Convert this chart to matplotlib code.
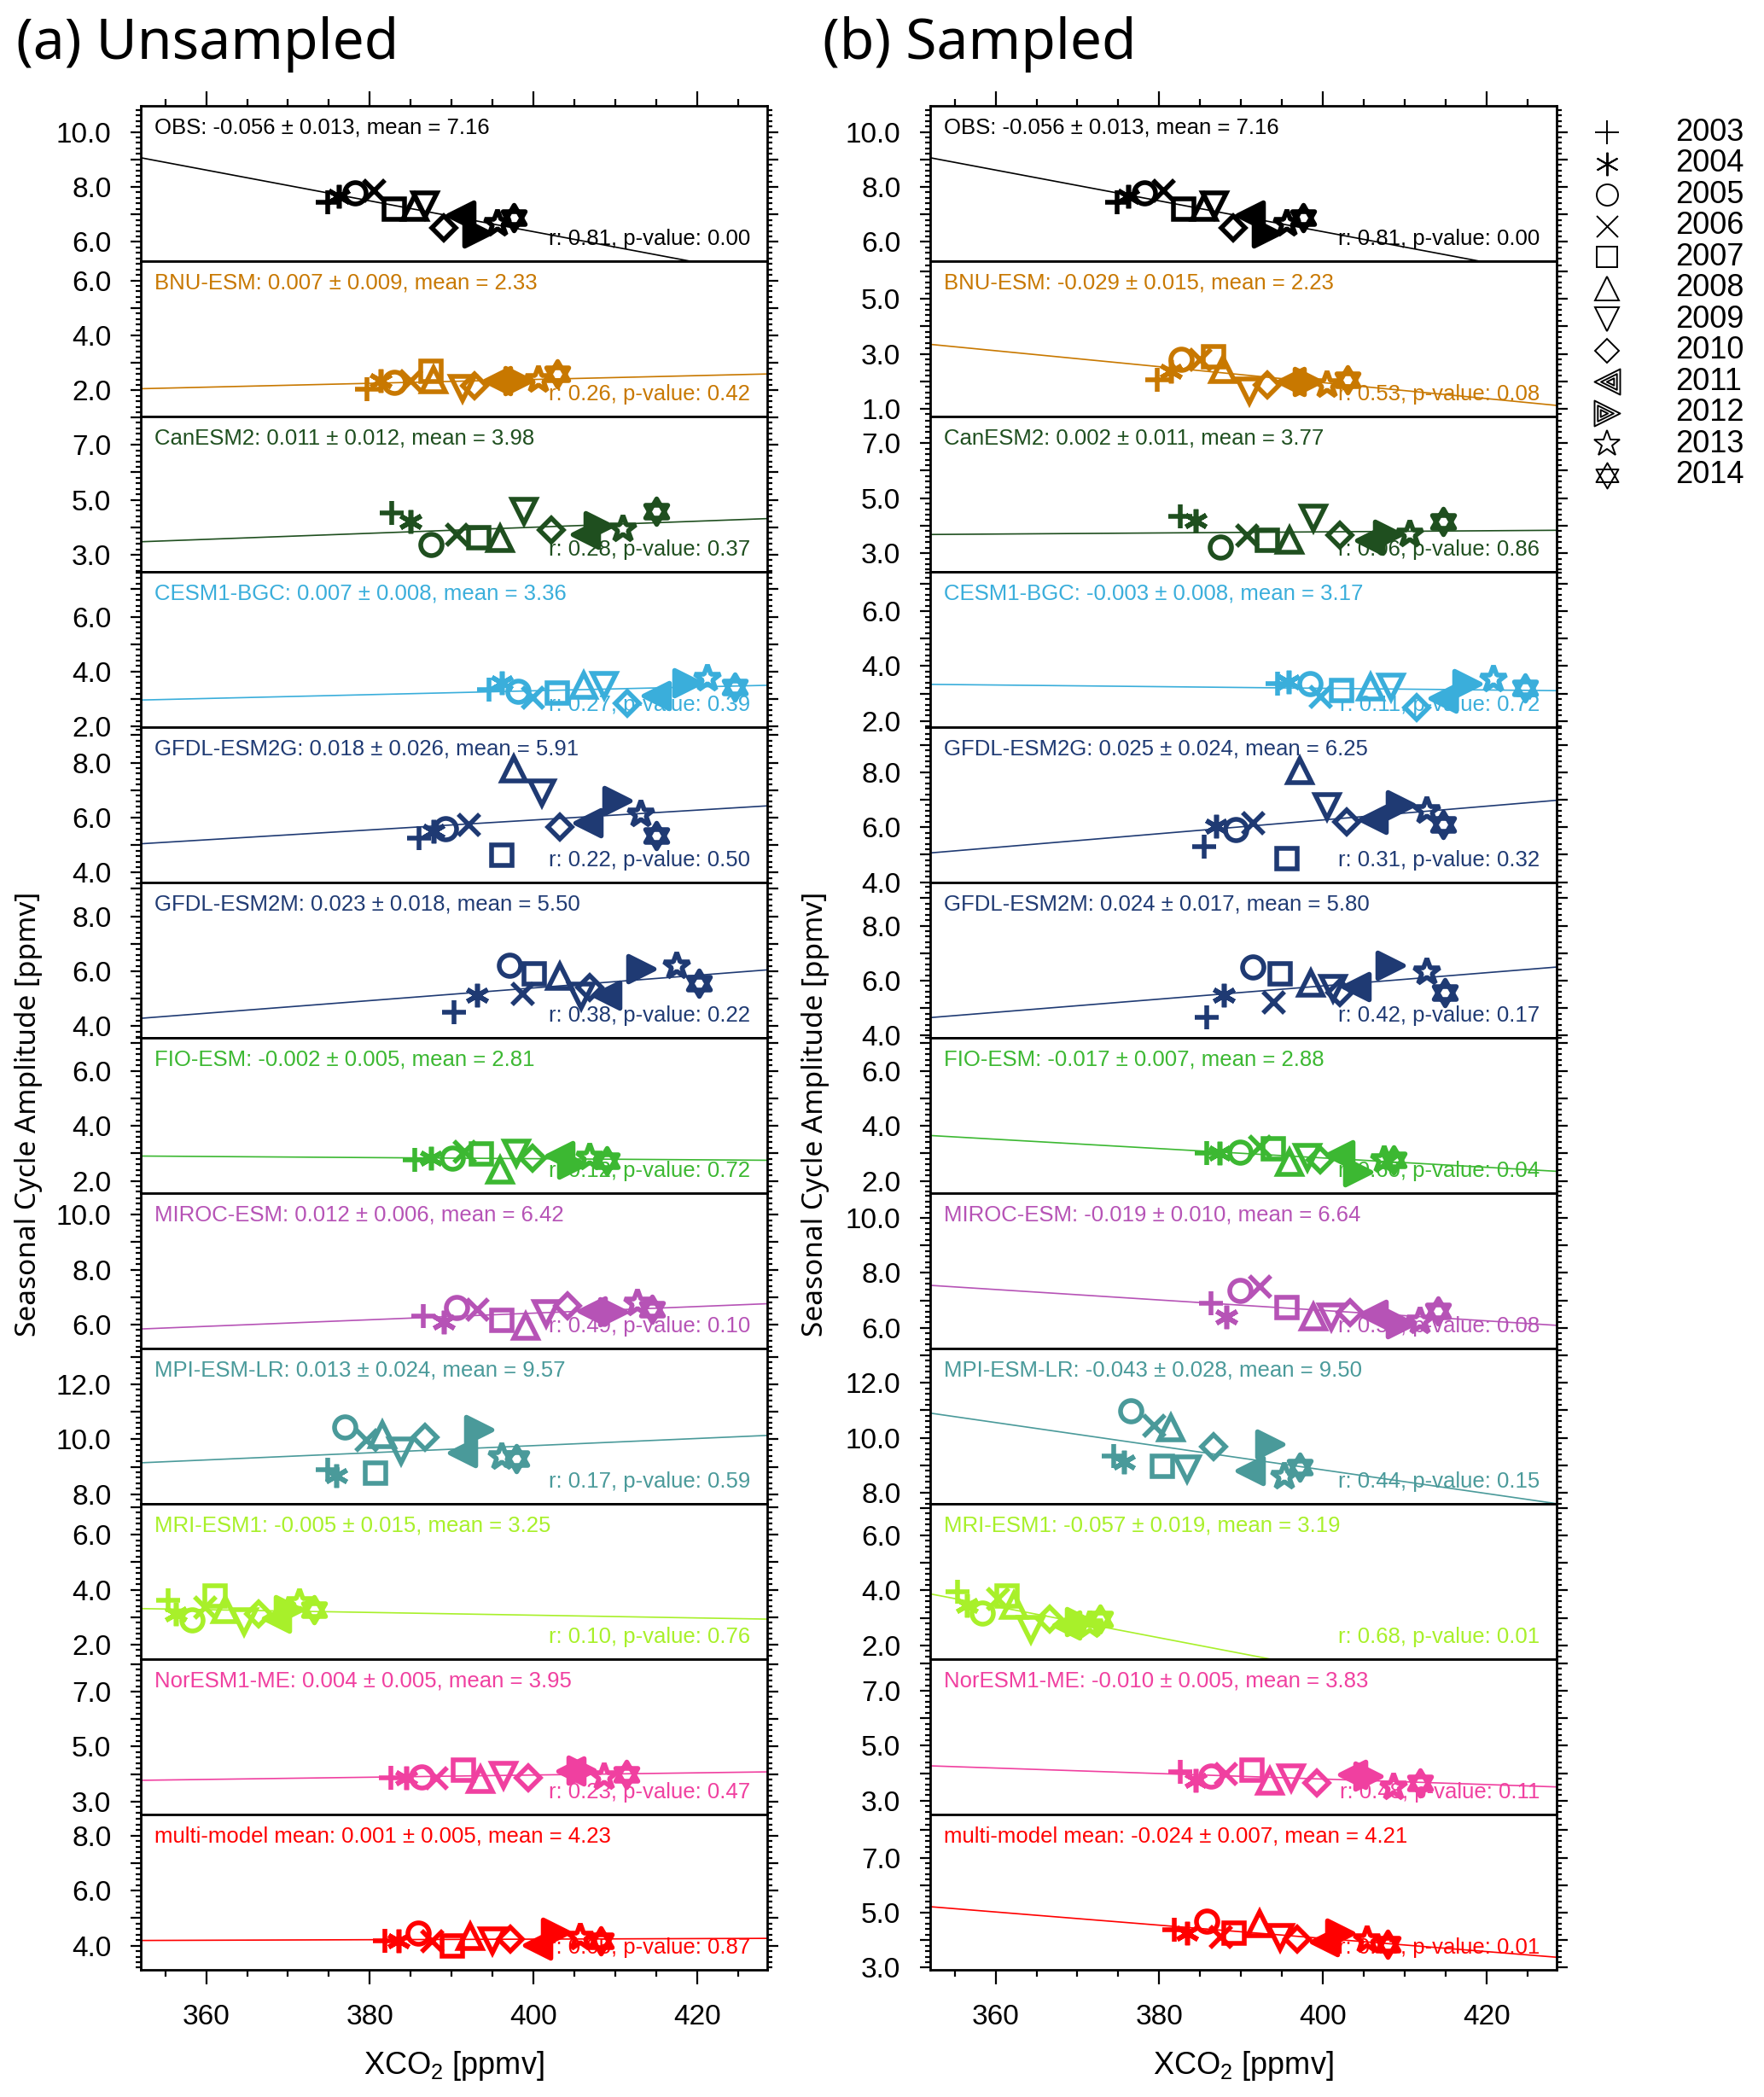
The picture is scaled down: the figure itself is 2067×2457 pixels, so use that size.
import numpy as np
import matplotlib
matplotlib.use("Agg")
import matplotlib.pyplot as plt
from matplotlib.path import Path
from matplotlib.ticker import MultipleLocator, FuncFormatter

plt.rcParams["font.family"] = ["Liberation Sans", "DejaVu Sans"]
plt.rcParams["mathtext.fontset"] = "custom"
plt.rcParams["mathtext.rm"] = "Liberation Sans"
plt.rcParams["mathtext.default"] = "regular"

years = [2003, 2004, 2005, 2006, 2007, 2008, 2009, 2010, 2011, 2012, 2013, 2014]
models = ["OBS", "BNU-ESM", "CanESM2", "CESM1-BGC", "GFDL-ESM2G", "GFDL-ESM2M",
          "FIO-ESM", "MIROC-ESM", "MPI-ESM-LR", "MRI-ESM1", "NorESM1-ME",
          "multi-model mean"]
colors = ["#000000", "#c87800", "#1f4f1f", "#3aaedb", "#1f3a73", "#1f3a73",
          "#3cb832", "#b653b6", "#4a9a9a", "#a8f02a", "#f040a0", "#ff0000"]

# (a) unsampled: XCO2 [ppmv] and seasonal cycle amplitude [ppmv] per year
xco2_unsampled = {
    "OBS": [374.9, 376.2, 378.2, 380.5, 383.0, 385.5, 386.8, 389.0, 391.1, 393.1, 395.6, 397.6],
    "BNU-ESM": [379.7, 381.3, 383.0, 385.0, 387.5, 387.8, 391.3, 392.8, 395.6, 398.1, 400.6, 402.9],
    "CanESM2": [382.7, 385.0, 387.5, 390.6, 393.3, 395.9, 398.9, 402.2, 406.4, 407.9, 411.0, 415.0],
    "CESM1-BGC": [394.6, 396.1, 398.1, 399.9, 402.9, 406.2, 408.7, 411.5, 415.0, 418.8, 421.3, 424.6],
    "GFDL-ESM2G": [386.0, 387.8, 389.3, 392.1, 396.1, 397.6, 401.1, 403.2, 406.7, 410.2, 413.2, 415.0],
    "GFDL-ESM2M": [390.3, 393.1, 397.1, 398.6, 400.1, 403.2, 405.9, 406.9, 409.0, 413.2, 417.5, 420.3],
    "FIO-ESM": [385.5, 387.5, 390.1, 391.6, 393.6, 395.9, 397.9, 399.9, 403.2, 404.7, 406.9, 409.0],
    "MIROC-ESM": [386.5, 389.0, 390.6, 393.1, 396.1, 399.1, 401.6, 404.2, 407.2, 409.7, 412.7, 414.5],
    "MPI-ESM-LR": [374.9, 375.9, 376.9, 379.5, 380.7, 381.5, 383.8, 386.8, 391.3, 393.3, 396.1, 397.9],
    "MRI-ESM1": [355.3, 356.3, 358.3, 359.8, 361.1, 362.3, 364.6, 366.4, 368.6, 370.1, 371.4, 373.2],
    "NorESM1-ME": [382.6, 384.5, 386.3, 388.1, 391.5, 393.5, 396.4, 399.4, 404.6, 405.9, 408.7, 411.4],
    "multi-model mean": [381.8, 383.5, 385.9, 387.6, 390.1, 392.3, 395.0, 397.2, 400.5, 402.7, 405.7, 408.2],
}
amp_unsampled = {
    "OBS": [7.45, 7.66, 7.77, 7.87, 7.19, 7.25, 7.35, 6.52, 6.99, 6.31, 6.68, 6.88],
    "BNU-ESM": [2.03, 2.34, 2.29, 2.34, 2.70, 2.38, 2.07, 2.18, 2.34, 2.34, 2.39, 2.60],
    "CanESM2": [4.51, 4.20, 3.37, 3.74, 3.63, 3.58, 4.57, 3.89, 3.74, 4.05, 3.94, 4.57],
    "CESM1-BGC": [3.34, 3.60, 3.29, 3.08, 3.23, 3.50, 3.50, 2.86, 3.13, 3.60, 3.76, 3.44],
    "GFDL-ESM2G": [5.24, 5.50, 5.60, 5.75, 4.62, 7.77, 6.89, 5.65, 5.81, 6.63, 6.12, 5.34],
    "GFDL-ESM2M": [4.52, 5.14, 6.23, 5.19, 5.92, 5.82, 5.09, 5.40, 5.14, 6.08, 6.18, 5.56],
    "FIO-ESM": [2.76, 2.81, 2.81, 3.08, 2.97, 2.39, 3.02, 2.81, 2.92, 2.60, 2.86, 2.73],
    "MIROC-ESM": [6.30, 6.10, 6.62, 6.56, 6.15, 5.94, 6.41, 6.67, 6.51, 6.46, 6.77, 6.56],
    "MPI-ESM-LR": [8.88, 8.68, 10.44, 9.97, 8.78, 10.18, 9.56, 10.08, 9.51, 10.34, 9.35, 9.30],
    "MRI-ESM1": [3.62, 3.10, 2.90, 3.36, 3.78, 3.26, 2.84, 3.10, 2.95, 3.26, 3.52, 3.26],
    "NorESM1-ME": [3.85, 3.85, 3.90, 3.85, 4.15, 3.80, 3.95, 3.85, 4.10, 4.15, 3.90, 4.00],
    "multi-model mean": [4.18, 4.18, 4.44, 4.18, 3.98, 4.34, 4.18, 4.24, 4.03, 4.49, 4.29, 4.18],
}
slope_unsampled = [-0.056, 0.007, 0.011, 0.007, 0.018, 0.023, -0.002, 0.012, 0.013, -0.005, 0.004, 0.001]
err_unsampled = [0.013, 0.009, 0.012, 0.008, 0.026, 0.018, 0.005, 0.006, 0.024, 0.015, 0.005, 0.005]
mean_unsampled = [7.16, 2.33, 3.98, 3.36, 5.91, 5.50, 2.81, 6.42, 9.57, 3.25, 3.95, 4.23]
r_unsampled = [0.81, 0.26, 0.28, 0.27, 0.22, 0.38, 0.12, 0.49, 0.17, 0.10, 0.23, 0.05]
p_unsampled = [0.00, 0.42, 0.37, 0.39, 0.50, 0.22, 0.72, 0.10, 0.59, 0.76, 0.47, 0.87]
ymin_unsampled = [5.3, 1.05, 2.38, 1.98, 3.64, 3.58, 1.55, 5.13, 7.65, 1.47, 2.53, 3.12]

# (b) sampled
xco2_sampled = {
    "OBS": [374.9, 376.2, 378.2, 380.5, 383.0, 385.5, 386.8, 389.0, 391.1, 393.1, 395.6, 397.6],
    "BNU-ESM": [379.8, 381.4, 382.7, 385.0, 386.6, 387.8, 391.0, 393.2, 396.1, 398.1, 400.5, 403.0],
    "CanESM2": [382.6, 384.5, 387.5, 390.7, 393.2, 395.9, 398.9, 402.1, 405.7, 407.9, 410.6, 414.7],
    "CESM1-BGC": [394.5, 395.8, 398.4, 399.7, 402.3, 405.9, 408.4, 411.5, 414.7, 417.6, 420.9, 424.7],
    "GFDL-ESM2G": [385.5, 387.0, 389.4, 391.5, 395.6, 397.2, 400.5, 402.9, 406.2, 409.5, 412.7, 414.7],
    "GFDL-ESM2M": [385.8, 387.9, 391.5, 394.0, 394.8, 398.5, 401.3, 402.1, 404.1, 408.3, 412.7, 414.9],
    "FIO-ESM": [385.8, 387.4, 389.9, 392.3, 394.0, 395.9, 398.1, 399.7, 402.1, 404.3, 407.5, 408.7],
    "MIROC-ESM": [386.3, 388.2, 389.9, 392.3, 395.6, 398.9, 401.0, 403.3, 406.2, 409.5, 411.9, 414.1],
    "MPI-ESM-LR": [374.4, 375.7, 376.5, 379.3, 380.4, 381.4, 383.4, 386.6, 391.1, 393.5, 395.3, 397.2],
    "MRI-ESM1": [355.3, 356.5, 358.4, 360.2, 361.4, 362.2, 364.3, 366.6, 368.7, 370.3, 371.5, 372.8],
    "NorESM1-ME": [382.6, 384.5, 386.3, 388.1, 391.3, 393.5, 396.1, 399.3, 403.7, 405.5, 408.7, 411.9],
    "multi-model mean": [381.8, 383.4, 385.8, 387.5, 389.1, 392.3, 394.8, 396.9, 400.2, 402.1, 405.4, 407.9],
}
amp_sampled = {
    "OBS": [7.45, 7.66, 7.77, 7.87, 7.19, 7.25, 7.35, 6.52, 6.99, 6.31, 6.68, 6.88],
    "BNU-ESM": [2.07, 2.37, 2.81, 2.81, 2.90, 2.42, 1.64, 1.88, 1.98, 1.98, 1.88, 2.07],
    "CanESM2": [4.34, 4.19, 3.21, 3.65, 3.46, 3.46, 4.29, 3.65, 3.46, 3.70, 3.70, 4.14],
    "CESM1-BGC": [3.36, 3.41, 3.36, 2.89, 3.10, 3.25, 3.25, 2.48, 2.84, 3.36, 3.51, 3.20],
    "GFDL-ESM2G": [5.30, 6.05, 5.90, 6.15, 4.85, 8.05, 6.75, 6.20, 6.30, 6.80, 6.60, 6.10],
    "GFDL-ESM2M": [4.68, 5.47, 6.51, 5.22, 6.26, 5.92, 5.72, 5.57, 5.77, 6.56, 6.31, 5.57],
    "FIO-ESM": [3.00, 3.00, 3.05, 3.25, 3.15, 2.66, 2.86, 2.76, 2.95, 2.32, 2.76, 2.76],
    "MIROC-ESM": [6.88, 6.39, 7.36, 7.51, 6.73, 6.39, 6.39, 6.54, 6.49, 6.15, 6.24, 6.63],
    "MPI-ESM-LR": [9.35, 9.11, 10.99, 10.46, 8.96, 10.36, 8.87, 9.69, 8.82, 9.78, 8.58, 8.92],
    "MRI-ESM1": [3.95, 3.46, 3.17, 3.70, 3.80, 3.46, 2.58, 2.97, 2.73, 2.88, 2.73, 2.97],
    "NorESM1-ME": [4.05, 3.75, 3.90, 4.00, 4.10, 3.70, 3.85, 3.65, 3.95, 3.90, 3.50, 3.65],
    "multi-model mean": [4.39, 4.24, 4.69, 4.14, 4.24, 4.59, 4.09, 4.05, 3.95, 4.24, 4.00, 3.85],
}
slope_sampled = [-0.056, -0.029, 0.002, -0.003, 0.025, 0.024, -0.017, -0.019, -0.043, -0.057, -0.010, -0.024]
err_sampled = [0.013, 0.015, 0.011, 0.008, 0.024, 0.017, 0.007, 0.010, 0.028, 0.019, 0.005, 0.007]
mean_sampled = [7.16, 2.23, 3.77, 3.17, 6.25, 5.80, 2.88, 6.64, 9.50, 3.19, 3.83, 4.21]
r_sampled = [0.81, 0.53, 0.06, 0.11, 0.31, 0.42, 0.60, 0.53, 0.44, 0.68, 0.48, 0.73]
p_sampled = [0.00, 0.08, 0.86, 0.72, 0.32, 0.17, 0.04, 0.08, 0.15, 0.01, 0.11, 0.01]
ymin_sampled = [5.3, 0.72, 2.32, 1.78, 3.99, 3.92, 1.55, 5.25, 7.6, 1.5, 2.5, 2.92]


def tri_path(direction):
    # three nested triangles, tip pointing left (-1) or right (+1)
    verts, codes = [], []
    for s in (1.0, 0.62, 0.28):
        pts = [(-1, 0), (1, 1), (1, -1)]
        pts = [((px - 1 / 3) * s + 1 / 3, py * s) for px, py in pts]
        pts = [(-direction * px, py) for px, py in pts]
        verts += pts + [pts[0]]
        codes += [Path.MOVETO, Path.LINETO, Path.LINETO, Path.CLOSEPOLY]
    return Path(verts, codes)


def hexagram_path():
    c, s = 0.866, 0.5
    verts = [(0, 1), (-c, -s), (c, -s), (0, 1), (0, -1), (-c, s), (c, s), (0, -1)]
    codes = [Path.MOVETO, Path.LINETO, Path.LINETO, Path.CLOSEPOLY] * 2
    return Path(verts, codes)


markers = ["+", (6, 2, 0), "o", "x", "s", "^", "v", "D",
           tri_path(-1), tri_path(1), "*", hexagram_path()]
marker_scale = [1.15, 1.1, 1.0, 1.0, 0.95, 1.1, 1.1, 0.8, 1.2, 1.2, 1.3, 1.2]
marker_filled = [False] * 8 + [True, True, False, False]

W, H = 2067, 2457
fig = plt.figure(figsize=(W / 100, H / 100), dpi=100)

col_left = [165, 1090]
col_width = 734
panel_top = 124
panel_h = 182
xlim = (352, 428.6)

columns = [
    (xco2_unsampled, amp_unsampled, slope_unsampled, err_unsampled, mean_unsampled,
     r_unsampled, p_unsampled, ymin_unsampled),
    (xco2_sampled, amp_sampled, slope_sampled, err_sampled, mean_sampled,
     r_sampled, p_sampled, ymin_sampled),
]

for c, (xd, yd, slopes, errs, means, rs, ps, ymins) in enumerate(columns):
    for i, name in enumerate(models):
        col = colors[i]
        x = np.array(xd[name])
        y = np.array(yd[name])
        top = panel_top + i * panel_h
        ax = fig.add_axes([col_left[c] / W, 1 - (top + panel_h) / H,
                           col_width / W, panel_h / H])
        ax.set_xlim(*xlim)
        ymin = ymins[i]
        ax.set_ylim(ymin, ymin + 5.65)

        # regression line through the centroid
        xx = np.array(xlim)
        ax.plot(xx, means[i] + slopes[i] * (xx - x.mean()), color=col, lw=1.2, zorder=2)

        for k in range(len(years)):
            ax.plot(x[k], y[k], linestyle="none", marker=markers[k],
                    ms=18 * marker_scale[k], mew=4.0, color=col,
                    mfc=col if marker_filled[k] else "none", zorder=3)

        ax.text(0.022, 0.925, f"{name}: {slopes[i]:.3f} \u00b1 {errs[i]:.3f}, mean = {means[i]:.2f}",
                transform=ax.transAxes, ha="left", va="top", fontsize=18.5, color=col)
        ax.text(0.973, 0.075, f"r: {rs[i]:.2f}, p-value: {ps[i]:.2f}",
                transform=ax.transAxes, ha="right", va="bottom", fontsize=18.5, color=col)

        for sp in ax.spines.values():
            sp.set_linewidth(2.0)

        # y ticks: every 1 with labels every 2, minor every 0.2
        first = np.ceil(ymin)
        ax.yaxis.set_major_locator(MultipleLocator(1))
        ax.yaxis.set_minor_locator(MultipleLocator(0.2))
        ax.yaxis.set_major_formatter(FuncFormatter(
            lambda v, pos, f=first: f"{v:.1f}" if abs((v - f) % 2) < 1e-6 else ""))
        ax.tick_params(axis="y", which="both", direction="out", left=True, right=True,
                       labelsize=24, width=1.6, pad=16)
        ax.tick_params(axis="y", which="major", length=9)
        ax.tick_params(axis="y", which="minor", length=4.5)

        ax.xaxis.set_major_locator(MultipleLocator(20))
        ax.xaxis.set_minor_locator(MultipleLocator(5))
        ax.tick_params(axis="x", which="both", direction="out", width=1.6,
                       bottom=(i == len(models) - 1), top=(i == 0),
                       labelbottom=(i == len(models) - 1), labeltop=False,
                       labelsize=24, pad=17)
        ax.tick_params(axis="x", which="major", length=12)
        ax.tick_params(axis="x", which="minor", length=6)

    fig.text((col_left[c] + col_width / 2) / W, 1 - 2420 / H, "XCO$_2$ [ppmv]",
             ha="center", va="center", fontsize=26)

fig.text(19 / W, 1 - 52 / H, "(a) Unsampled", fontsize=47.5, family="Noto Sans",
         ha="left", va="center")
fig.text(964 / W, 1 - 52 / H, "(b) Sampled", fontsize=47.5, family="Noto Sans",
         ha="left", va="center")
for xl in (34, 956):
    fig.text(xl / W, 1 - 1305 / H, "Seasonal Cycle Amplitude [ppmv]", rotation=90,
             fontsize=24, family="Noto Sans", ha="center", va="center")

# year legend
lax = fig.add_axes([1850 / W, 1 - 575 / H, 217 / W, 438 / H])
lax.set_xlim(0, 217)
lax.set_ylim(11.5, -0.5)
lax.axis("off")
for k, yr in enumerate(years):
    lax.plot(33, k, linestyle="none", marker=markers[k], ms=18 * marker_scale[k],
             mew=1.4, color="black", mfc="none", clip_on=False)
    lax.text(113, k, str(yr), ha="left", va="center", fontsize=26)

fig.savefig("out.png", dpi=100)
